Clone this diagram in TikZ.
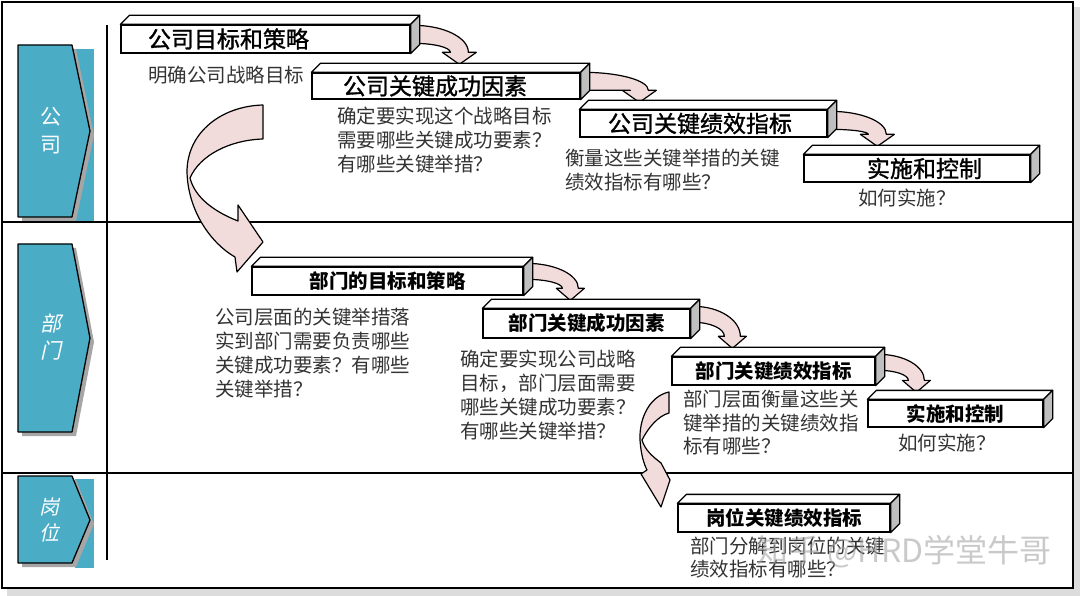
\documentclass[tikz,border=0pt]{standalone}
\usepackage{fontspec}
\setmainfont{Noto Sans CJK SC}
\newfontfamily\slfont{Noto Sans CJK SC}[FakeSlant=0.22]
\newfontfamily\medfont{Noto Sans CJK SC}[FakeBold=1.2]
\usetikzlibrary{calc}
\definecolor{tealc}{HTML}{4BACC6}
\definecolor{pinkfill}{HTML}{F2DCDB}
\definecolor{sidegray}{HTML}{BFBFBF}
\definecolor{pshadow}{HTML}{A6A6A6}
\definecolor{shadowgray}{HTML}{DCDCDC}
\definecolor{desctext}{HTML}{333333}
\pgfdeclarelayer{bg}
\pgfsetlayers{bg,main}
\newcommand\lefttext[3]{\makebox[#1][l]{\hspace*{#2}#3}}
\newcommand\mkfaces[1]{%
  \filldraw[face] (#1.north west) -- ++(9,-9) -- ($(#1.north east)+(9,-9)$) -- (#1.north east) -- cycle;
  \filldraw[face,fill=sidegray] (#1.north east) -- ++(9,-9) -- ($(#1.south east)+(9,-9)$) -- (#1.south east) -- cycle;}
% #1 start (band top), #2 tip, #3 half band width, #4 head extra
\newcommand\bendarrow[4]{%
  \filldraw[blockarrow] let \p1=#1, \p2=#2 in
    (\x1,\y1) .. controls ({\x1+0.55*(\x2+#3-\x1)},\y1) and ({\x2+#3},{\y2+12pt+0.55*(\y1-\y2-12pt)}) .. ({\x2+#3},{\y2+12pt})
    -- ({\x2+#3+#4},{\y2+12pt}) -- (\x2,\y2) -- ({\x2-#3-#4},{\y2+12pt}) -- ({\x2-#3},{\y2+12pt})
    .. controls ({\x2-#3},{\y2+12pt+0.55*(\y1-2*#3-\y2-12pt)}) and ({\x1+0.55*(\x2-#3-\x1)},{\y1-2*#3}) .. (\x1,{\y1-2*#3}) -- cycle;}
\tikzset{
  face/.style={draw=black, fill=white, line width=1.3pt, line join=round},
  cbar/.style={draw=black, fill=white, line width=1.3pt, inner sep=0pt, minimum height=27pt,
    font=\medfont\fontsize{23}{26}\selectfont},
  dbar/.style={draw=black, fill=white, line width=1.3pt, inner sep=0pt, minimum height=28pt,
    font=\fontsize{19.5}{22}\selectfont\bfseries},
  desc/.style={font=\fontsize{19.5}{24}\selectfont, text=desctext, inner sep=0pt, align=left},
  blockarrow/.style={draw=black, fill=pinkfill, line width=1.2pt, line join=round},
  tag/.style={draw=black, fill=tealc, line width=1.3pt, line join=round},
  tagtext/.style={text=white, align=center, inner sep=0pt},
  rule/.style={draw=black, line width=1.4pt}
}
\begin{document}
\begin{tikzpicture}[x=1pt,y=-1pt]
\useasboundingbox (0,0) rectangle (1080,596);
% ---- boxes (front faces) ----
\node[cbar, minimum width=289pt, minimum height=28pt] (b1) at (265.5,39) {\lefttext{289pt}{27pt}{公司目标和策略}};
\node[cbar, minimum width=268pt, minimum height=26pt] (b2) at (446,86) {\lefttext{268pt}{31pt}{公司关键成功因素}};
\node[cbar, minimum width=247pt] (b3) at (703.5,123.5) {\lefttext{247pt}{28pt}{公司关键绩效指标}};
\node[cbar, minimum width=226pt] (b4) at (917,168.5) {\lefttext{226pt}{63pt}{实施和控制}};
\node[dbar, minimum width=271pt] (b5) at (387.5,281) {部门的目标和策略};
\node[dbar, minimum width=207pt, minimum height=29pt] (b6) at (586.5,323.5) {部门关键成功因素};
\node[dbar, minimum width=203pt] (b7) at (773.5,371) {部门关键绩效指标};
\node[dbar, minimum width=175pt, minimum height=27pt] (b8) at (955.5,413.5) {实施和控制};
\node[dbar, minimum width=212pt] (b9) at (784,518) {岗位关键绩效指标};
\mkfaces{b1}\mkfaces{b2}\mkfaces{b3}\mkfaces{b4}
\mkfaces{b5}\mkfaces{b6}\mkfaces{b7}\mkfaces{b8}\mkfaces{b9}
% ---- descriptions ----
\node[desc, anchor=west] (d1) at (148,75) {明确公司战略目标};
\node[desc, anchor=north west] (d2) at (337,107) {确定要实现这个战略目标\\需要哪些关键成功要素？\\有哪些关键举措？};
\node[desc, anchor=north west] (d3) at (565,149) {衡量这些关键举措的关键\\绩效指标有哪些？};
\node[desc, anchor=west] (d4) at (858,198) {如何实施？};
\node[desc, anchor=north west] (d5) at (215,308) {公司层面的关键举措落\\实到部门需要负责哪些\\关键成功要素？有哪些\\关键举措？};
\node[desc, anchor=north west] (d6) at (460,350) {确定要实现公司战略\\目标，部门层面需要\\哪些关键成功要素？\\有哪些关键举措？};
\node[desc, anchor=north west, font=\fontsize{19.5}{23.5}\selectfont] (d7) at (683,390) {部门层面衡量这些关\\键举措的关键绩效指\\标有哪些？};
\node[desc, anchor=west] (d8) at (898,443) {如何实施？};
\node[desc, anchor=north west, font=\fontsize{19.5}{23}\selectfont] (d9) at (690,537) {部门分解到岗位的关键\\绩效指标有哪些？};
% ---- background layer ----
\begin{pgfonlayer}{bg}
  \fill[white] (0,0) rectangle (1080,596);
  \fill[shadowgray] (7,7) rectangle (1080,596);
  \filldraw[fill=white, draw=black, line width=2pt] (2,2) rectangle (1073,588);
  \draw[rule] (2,222) -- (1073,222);
  \draw[rule] (2,473) -- (1073,473);
  \draw[rule] (107,25) -- (107,560);
  % side tags
  \fill[tealc] (75,49) rectangle (94,221);
  \fill[pshadow] (22,49) -- (76,49) -- (94,135) -- (76,221) -- (22,221) -- cycle;
  \draw[tag] (18,45) -- (72,45) -- (90,131) -- (72,217) -- (18,217) -- cycle;
  \fill[pshadow] (22,248) -- (76,248) -- (94,342) -- (76,436) -- (22,436) -- cycle;
  \draw[tag] (18,244) -- (72,244) -- (90,338) -- (72,432) -- (18,432) -- cycle;
  \fill[tealc] (75,479) rectangle (94,568);
  \fill[pshadow] (22,480) -- (76,480) -- (94,524) -- (76,567) -- (22,567) -- cycle;
  \draw[tag] (18,476) -- (72,476) -- (90,520) -- (72,563) -- (18,563) -- cycle;
  % big arrow company -> department
  \filldraw[blockarrow] (263,105) .. controls (222,106) and (187,132) .. (187,172)
     .. controls (188,212) and (212,244) .. (235,257) -- (237,272) -- (263,242) -- (238,205) -- (238,221)
     .. controls (215,212) and (195,198) .. (190,178)
     .. controls (200,155) and (230,140) .. (263,139) -- cycle;
  % arrow department -> position
  \filldraw[blockarrow] (669,392) .. controls (650,396) and (639,418) .. (640,440)
     .. controls (641,455) and (644,464) .. (647,470) -- (641,474) -- (661,507) -- (670,480) -- (661,463)
     .. controls (652,456) and (645,450) .. (642,440)
     .. controls (648,428) and (658,416) .. (669,413) -- cycle;
  % step arrows
  \bendarrow{($(b1.north east)+(3,1)$)}{($(b2.north west)+(148,-8)$)}{9pt}{8pt}
  \bendarrow{($(b2.north east)+(3,0)$)}{($(b3.north west)+(60,-7)$)}{9pt}{8pt}
  \bendarrow{($(b3.north east)+(3,2)$)}{($(b4.north west)+(74,-8)$)}{9pt}{8pt}
  \bendarrow{($(b5.north east)+(3,-3)$)}{($(b6.north west)+(88,-8)$)}{8pt}{6pt}
  \bendarrow{($(b6.north east)+(3,-2)$)}{($(b7.north west)+(61,-8)$)}{8pt}{6pt}
  \bendarrow{($(b7.north east)+(3,-2)$)}{($(b8.north west)+(49,-7)$)}{8pt}{6pt}
\end{pgfonlayer}
% tag texts
\node[tagtext, font=\fontsize{21}{28}\selectfont] (t1) at (51,131) {公\\司};
\node[tagtext, font=\slfont\fontsize{21}{27}\selectfont] (t2) at (51,337) {部\\门};
\node[tagtext, font=\slfont\fontsize{20}{26}\selectfont] (t3) at (49,520) {岗\\位};
% watermark
\node[text=gray!70, opacity=0.6, font=\fontsize{32}{32}\selectfont, inner sep=0pt] (wm) at (904,552) {知乎 @HRD学堂牛哥};
\end{tikzpicture}
\end{document}
